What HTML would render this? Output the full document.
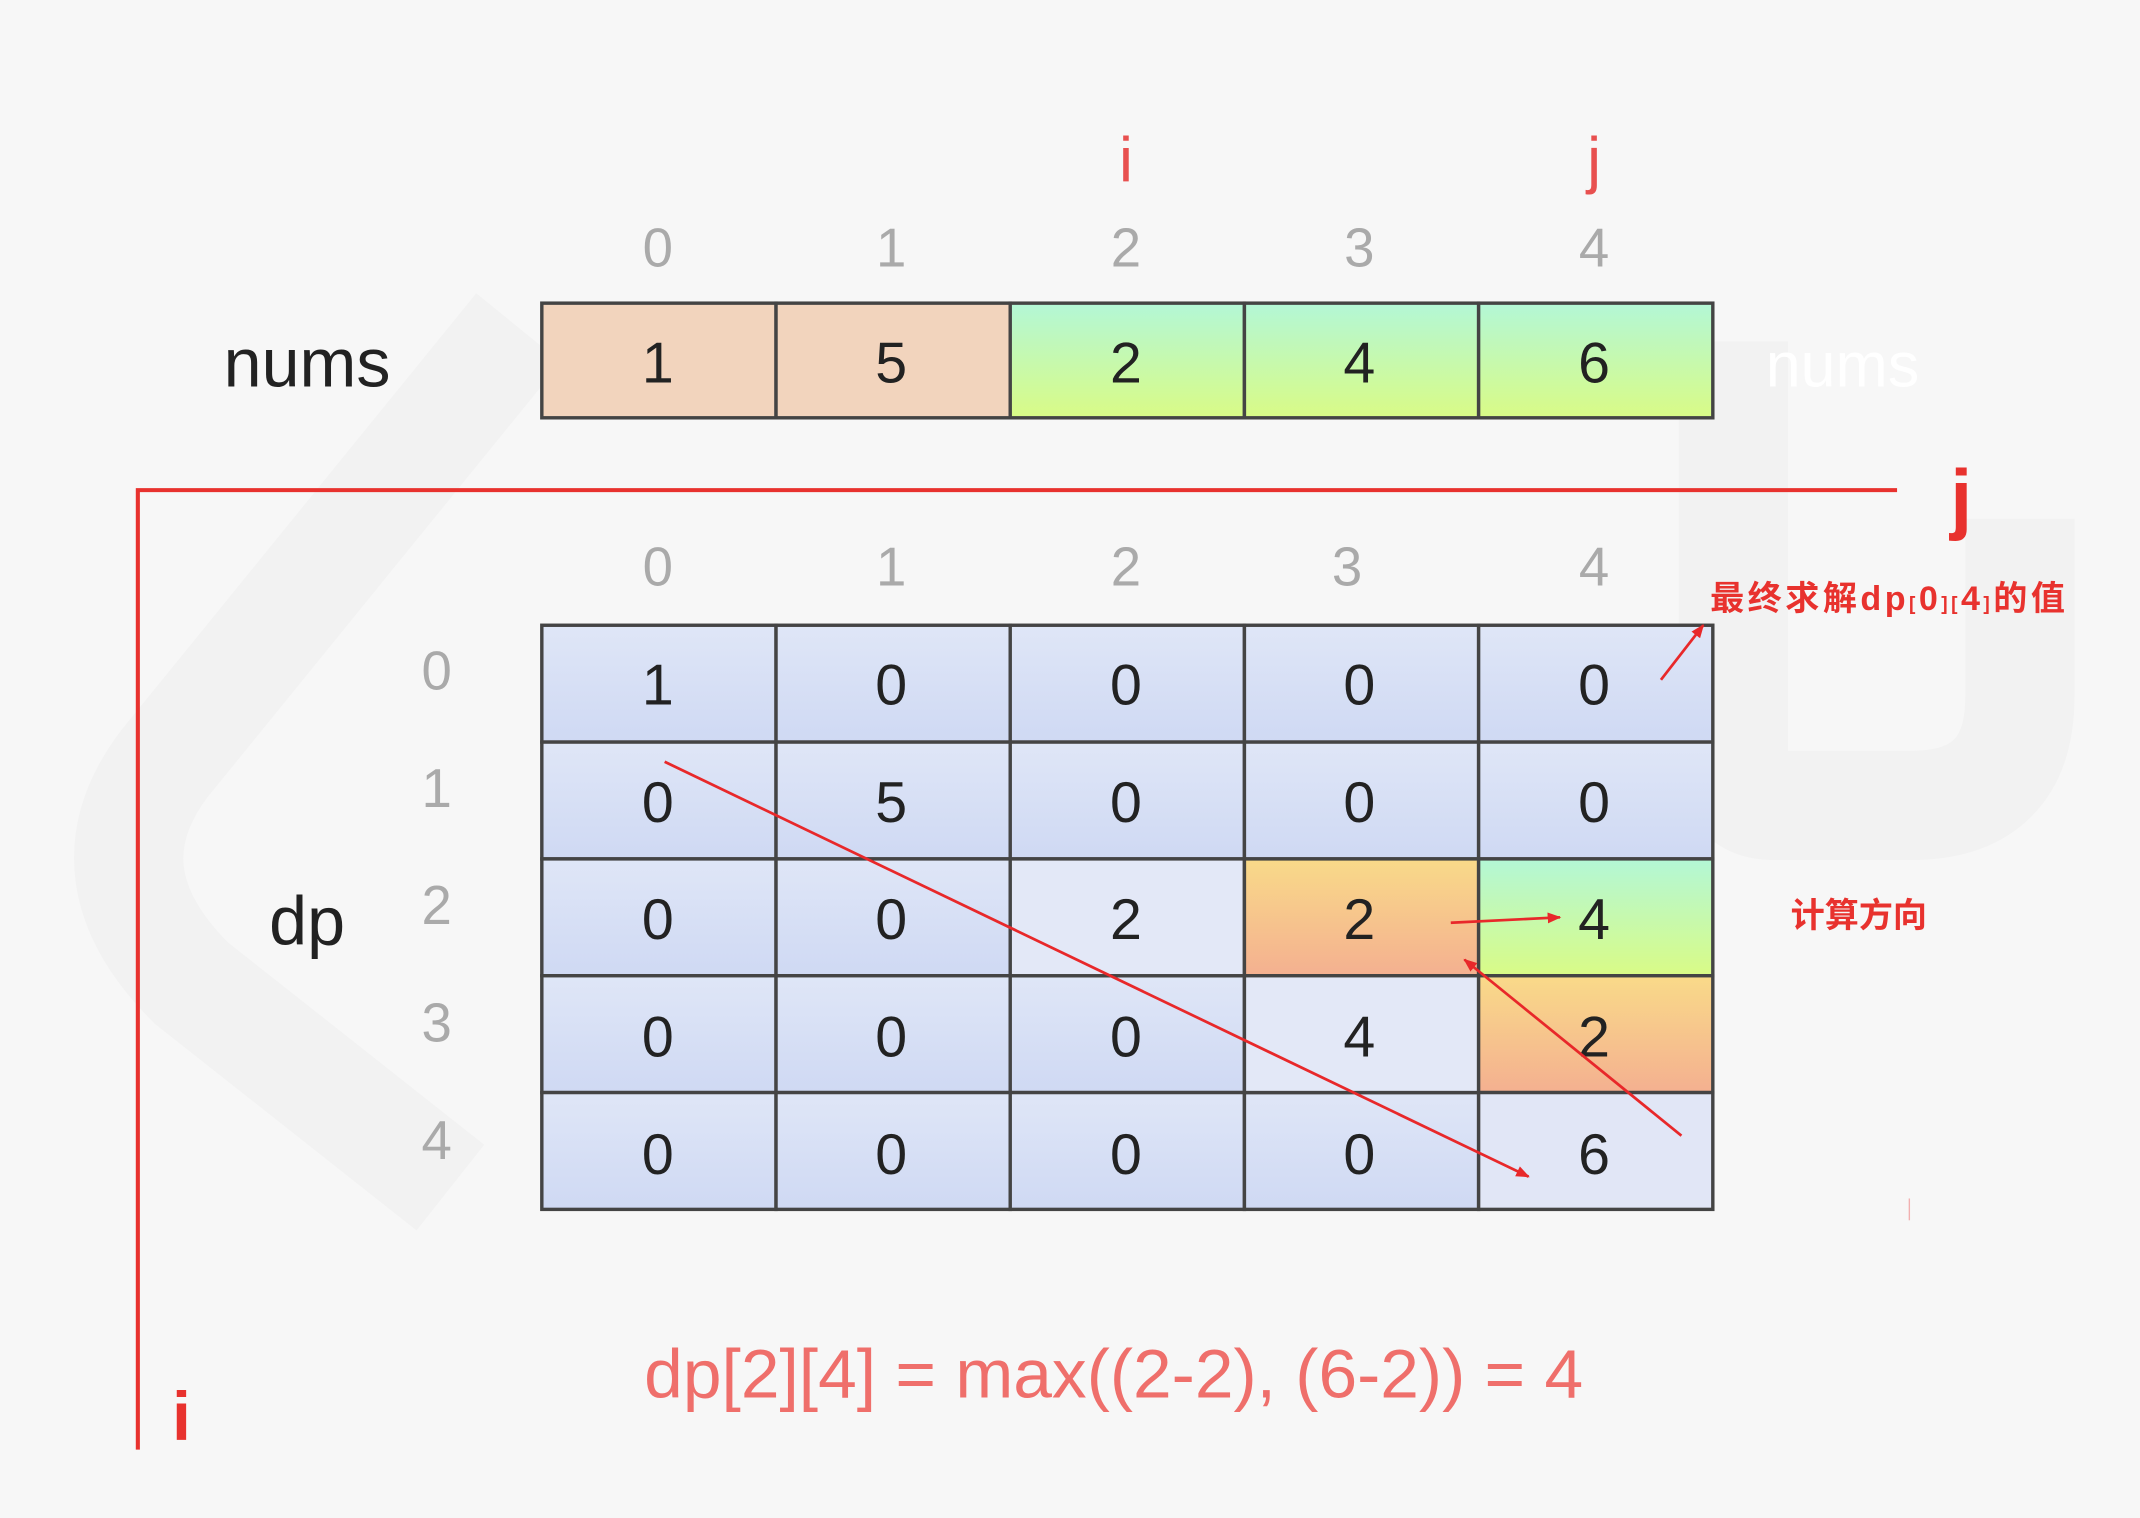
<!DOCTYPE html>
<html><head><meta charset="utf-8"><style>
html,body{margin:0;padding:0;background:#f7f7f7;}
svg{display:block;}
</style></head><body>
<svg width="2140" height="1518" viewBox="0 0 1568 1112" xmlns="http://www.w3.org/2000/svg" font-family="Liberation Sans, Noto Sans CJK SC, sans-serif">
<defs>
<linearGradient id="g" x1="0" y1="0" x2="0" y2="1"><stop offset="0" stop-color="#b3f7d6"/><stop offset="1" stop-color="#d9fb86"/></linearGradient>
<linearGradient id="o" x1="0" y1="0" x2="0" y2="1"><stop offset="0" stop-color="#f9da89"/><stop offset="1" stop-color="#f4b090"/></linearGradient>
<linearGradient id="b" x1="0" y1="0" x2="0" y2="1"><stop offset="0" stop-color="#dfe6f7"/><stop offset="1" stop-color="#cfd9f3"/></linearGradient>
<marker id="a" markerWidth="10" markerHeight="8" refX="9" refY="4" orient="auto" markerUnits="userSpaceOnUse"><path d="M0,0 L10,4 L0,8 z" fill="#e8282a"/></marker>
</defs>
<rect width="1568" height="1112" fill="#f7f7f7"/>
<g fill="none" stroke="#f2f2f2" stroke-width="80">
<path d="M380 240 L120 560 Q60 640 140 720 L330 870"/>
<path d="M1270 250 L1270 560 Q1270 590 1300 590 L1400 590 Q1480 590 1480 510 L1480 380"/>
</g>
<g fill="#e8504f" font-size="46" text-anchor="middle">
<text x="825" y="133">i</text><text x="1168" y="133">j</text>
</g>
<g fill="#aaaaaa" font-size="40" text-anchor="middle">
<text x="482" y="195">0</text><text x="653" y="195">1</text><text x="825" y="195">2</text><text x="996" y="195">3</text><text x="1168" y="195">4</text>
<text x="482" y="429">0</text><text x="653" y="429">1</text><text x="825" y="429">2</text><text x="987" y="429">3</text><text x="1168" y="429">4</text>
<text x="320" y="505">0</text><text x="320" y="591">1</text><text x="320" y="677">2</text><text x="320" y="763">3</text><text x="320" y="849">4</text>
</g>
<text x="225" y="283" font-size="50" fill="#222" text-anchor="middle">nums</text>
<text x="1350" y="283" font-size="46" fill="#ffffff" text-anchor="middle">nums</text>
<text x="225" y="692" font-size="50" fill="#222" text-anchor="middle">dp</text>
<g stroke="#444" stroke-width="2.5">
<rect x="397" y="222" width="171.6" height="84" fill="#f2d4bd"/>
<rect x="568.6" y="222" width="171.6" height="84" fill="#f2d4bd"/>
<rect x="740.2" y="222" width="171.6" height="84" fill="url(#g)"/>
<rect x="911.8" y="222" width="171.6" height="84" fill="url(#g)"/>
<rect x="1083.4" y="222" width="171.6" height="84" fill="url(#g)"/>
</g>
<g fill="#222" font-size="42" text-anchor="middle">
<text x="482" y="280">1</text><text x="653" y="280">5</text><text x="825" y="280">2</text><text x="996" y="280">4</text><text x="1168" y="280">6</text>
</g>
<path d="M101 1062 L101 359 L1390 359" fill="none" stroke="#e8322e" stroke-width="3"/>
<text x="1437" y="384" font-size="58" font-weight="bold" fill="#e8322e" text-anchor="middle">j</text>
<text x="133" y="1055" font-size="50" font-weight="bold" fill="#e8322e" text-anchor="middle">i</text>
<g stroke="#444" stroke-width="2.5">
<g fill="url(#b)">
<rect x="397" y="458" width="171.6" height="85.6"/><rect x="568.6" y="458" width="171.6" height="85.6"/><rect x="740.2" y="458" width="171.6" height="85.6"/><rect x="911.8" y="458" width="171.6" height="85.6"/><rect x="1083.4" y="458" width="171.6" height="85.6"/>
<rect x="397" y="543.6" width="171.6" height="85.6"/><rect x="568.6" y="543.6" width="171.6" height="85.6"/><rect x="740.2" y="543.6" width="171.6" height="85.6"/><rect x="911.8" y="543.6" width="171.6" height="85.6"/><rect x="1083.4" y="543.6" width="171.6" height="85.6"/>
<rect x="397" y="629.2" width="171.6" height="85.6"/><rect x="568.6" y="629.2" width="171.6" height="85.6"/>
<rect x="397" y="714.8" width="171.6" height="85.6"/><rect x="568.6" y="714.8" width="171.6" height="85.6"/><rect x="740.2" y="714.8" width="171.6" height="85.6"/>
<rect x="397" y="800.4" width="171.6" height="85.6"/><rect x="568.6" y="800.4" width="171.6" height="85.6"/><rect x="740.2" y="800.4" width="171.6" height="85.6"/><rect x="911.8" y="800.4" width="171.6" height="85.6"/>
</g>
<rect x="740.2" y="629.2" width="171.6" height="85.6" fill="#e3e8f7"/>
<rect x="911.8" y="629.2" width="171.6" height="85.6" fill="url(#o)"/>
<rect x="1083.4" y="629.2" width="171.6" height="85.6" fill="url(#g)"/>
<rect x="911.8" y="714.8" width="171.6" height="85.6" fill="#e3e8f7"/>
<rect x="1083.4" y="714.8" width="171.6" height="85.6" fill="url(#o)"/>
<rect x="1083.4" y="800.4" width="171.6" height="85.6" fill="#e1e6f6"/>
</g>
<g fill="#222" font-size="42" text-anchor="middle">
<text x="482" y="516">1</text><text x="653" y="516">0</text><text x="825" y="516">0</text><text x="996" y="516">0</text><text x="1168" y="516">0</text>
<text x="482" y="602">0</text><text x="653" y="602">5</text><text x="825" y="602">0</text><text x="996" y="602">0</text><text x="1168" y="602">0</text>
<text x="482" y="688">0</text><text x="653" y="688">0</text><text x="825" y="688">2</text><text x="996" y="688">2</text><text x="1168" y="688">4</text>
<text x="482" y="774">0</text><text x="653" y="774">0</text><text x="825" y="774">0</text><text x="996" y="774">4</text><text x="1168" y="774">2</text>
<text x="482" y="860">0</text><text x="653" y="860">0</text><text x="825" y="860">0</text><text x="996" y="860">0</text><text x="1168" y="860">6</text>
</g>
<g stroke="#e8282a" stroke-width="2" fill="none" marker-end="url(#a)">
<line x1="487" y1="558" x2="1120" y2="862"/>
<line x1="1232" y1="832" x2="1073" y2="703"/>
<line x1="1063" y1="676" x2="1143" y2="672"/>
<line x1="1217" y1="498" x2="1248" y2="458"/>
</g>
<text x="1253" y="447" font-size="25" font-weight="bold" fill="#e8322e" textLength="260" lengthAdjust="spacing">最终求解dp<tspan font-size="14">[</tspan>0<tspan font-size="14">][</tspan>4<tspan font-size="14">]</tspan>的值</text>
<text x="1312" y="679" font-size="25" font-weight="bold" fill="#e8322e">计算方向</text>
<line x1="1399" y1="878" x2="1399" y2="894" stroke="#f2b0b0" stroke-width="1"/>
<text x="472" y="1024" font-size="50" fill="#ef6f6b" textLength="688" lengthAdjust="spacingAndGlyphs">dp[2][4] = max((2-2), (6-2)) = 4</text>
</svg>
</body></html>
